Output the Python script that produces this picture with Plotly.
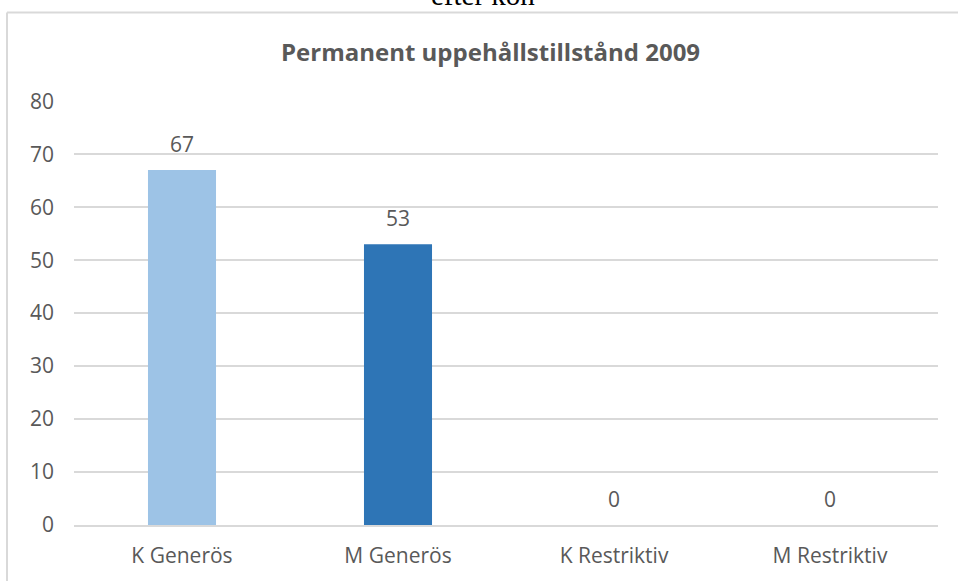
import plotly.graph_objects as go

categories = ["K Generös", "M Generös", "K Restriktiv", "M Restriktiv"]
values = [67, 53, 0, 0]
bar_colors = ["#9DC3E6", "#2E75B6", "#9DC3E6", "#2E75B6"]
y_ticks = [0, 10, 20, 30, 40, 50, 60, 70, 80]

title_text = "Permanent uppehållstillstånd 2009"
caption_text = "efter kön"

W, H = 958, 581
# target plot area in page pixels: x 74..938, y 101..527
L, T = 74, 101
R = W - 938
B = H - 527
pw, ph = W - L - R, H - T - B

def px_x(x):
    return (x - L) / pw

def px_y(y):
    return 1 - (y - T) / ph

fig = go.Figure()
fig.add_trace(go.Bar(
    x=categories, y=values, marker=dict(color=bar_colors, line=dict(width=0)),
    width=0.315, hoverinfo="skip",
))

annotations = []
for c, v in zip(categories, values):
    annotations.append(dict(
        x=c, y=v, xref="x", yref="y", text=str(v), showarrow=False,
        yanchor="middle", yshift=26,
        font=dict(family="Open Sans", size=21, color="#595959"),
    ))
annotations.append(dict(
    x=px_x(490), y=px_y(51), xref="paper", yref="paper", text="<b>" + title_text + "</b>",
    showarrow=False, xanchor="center", yanchor="middle",
    font=dict(family="Open Sans", size=24, color="#595959"),
))
annotations.append(dict(
    x=px_x(483), y=px_y(-6), xref="paper", yref="paper", text=caption_text,
    showarrow=False, xanchor="center", yanchor="middle",
    font=dict(family="Liberation Serif", size=29, color="#000000"),
))

border = dict(color="#D9D9D9", width=2)
fig.update_layout(
    width=W, height=H, autosize=False,
    margin=dict(l=L, r=R, t=T, b=B, pad=0),
    paper_bgcolor="white", plot_bgcolor="white",
    showlegend=False,
    annotations=annotations,
    shapes=[
        dict(type="line", xref="paper", yref="paper",
             x0=px_x(7), x1=px_x(W + 20), y0=px_y(12), y1=px_y(12), line=border, layer="below"),
        dict(type="line", xref="paper", yref="paper",
             x0=px_x(7), x1=px_x(7), y0=px_y(12), y1=px_y(H + 20), line=border, layer="below"),
    ],
    xaxis=dict(
        showgrid=False, showline=True, linecolor="#D9D9D9", linewidth=1.5,
        ticks="", tickfont=dict(family="Open Sans", size=21, color="#595959"),
        ticklabelstandoff=11, zeroline=False,
    ),
    yaxis=dict(
        range=[0, 80.05], tickvals=y_ticks, showgrid=True, gridcolor="#D9D9D9", gridwidth=1.5,
        zeroline=False, showline=False, ticks="",
        tickfont=dict(family="Open Sans", size=21, color="#595959"),
        ticklabelstandoff=19,
    ),
    bargap=0.685,
)

fig.write_html(
    "out.html",
    config={"displayModeBar": False, "staticPlot": True},
    post_script="document.body.style.margin='0';document.body.style.overflow='hidden';",
)
